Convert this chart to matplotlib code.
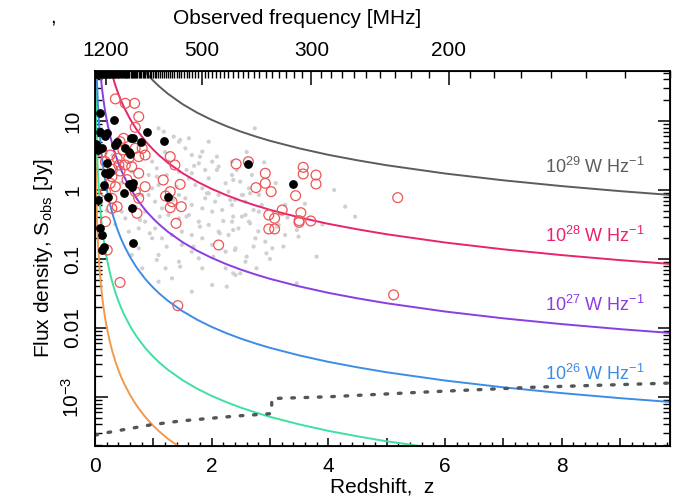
import numpy as np
import matplotlib
matplotlib.use('Agg')
import matplotlib.pyplot as plt
from matplotlib.ticker import MultipleLocator, LogLocator, NullFormatter

plt.rcParams['font.family'] = ['Liberation Sans', 'DejaVu Sans']
plt.rcParams['mathtext.fontset'] = 'custom'
plt.rcParams['mathtext.rm'] = 'Liberation Sans'
plt.rcParams['mathtext.it'] = 'Liberation Sans:italic'

# flux density [Jy] of a 1e26 W/Hz source vs redshift
z_curve = [0.002, 0.005, 0.01, 0.02, 0.035, 0.05, 0.075, 0.1, 0.125, 0.15, 0.175,
           0.2, 0.25, 0.3, 0.35, 0.4, 0.45, 0.5, 0.6, 0.7, 0.75, 0.85, 0.9, 1.0,
           1.1, 1.25, 1.5, 1.75, 2.0, 2.25, 2.5, 2.75, 3.0, 3.5, 4.0, 4.5, 5.0,
           6.0, 7.0, 8.0, 9.0, 10.0]
S26_curve = [1.14e4, 1818, 454, 112.9, 36.5, 17.87, 7.795, 4.344, 2.747, 1.889,
             1.3755, 1.044, 0.658, 0.451, 0.3274, 0.248, 0.1942, 0.1563, 0.1074,
             0.07833, 0.0683, 0.05292, 0.0472, 0.03829, 0.03176, 0.02481, 0.01756,
             0.01321, 0.010386, 0.008436, 0.00702, 0.005975, 0.00516, 0.004013,
             0.003234, 0.002692, 0.002284, 0.001734, 0.001381, 0.001139, 0.000963,
             0.000831]
lum_exp = [24, 25, 26, 27, 28, 29]
lum_col = ['#f29a4c', '#3fe0a0', '#3d8de6', '#8a3de2', '#e8236f', '#5c5c5c']
labelled = [26, 27, 28, 29]

# sensitivity limit (dotted)
z_lim = [0.0, 0.2, 0.94, 1.46, 2.43, 2.86, 3.03, 3.03, 4.03, 5.75, 7.46, 9.74, 9.9]
S_lim = [2.8e-4, 3.04e-4, 3.93e-4, 4.49e-4, 5.31e-4, 5.61e-4, 5.75e-4, 9.5e-4,
         1.01e-3, 1.19e-3, 1.38e-3, 1.58e-3, 1.6e-3]

# grey sample (z, log10 S)
grey_z = [1.09, 1.18, 1.35, 1.44, 1.61, 1.95, 2.09, 2.35, 2.12, 1.89, 1.78, 1.66,
          1.61, 1.72, 1.84, 1.95, 2.12, 2.24, 2.35, 2.49, 2.64, 2.81, 2.58, 2.35,
          2.18, 2.01, 1.84, 1.66, 1.55, 1.44, 1.09, 0.98, 0.92, 1.03, 1.15, 1.26,
          1.44, 1.61, 1.78, 1.95, 2.12, 2.29, 2.46, 2.64, 2.75, 2.41, 2.24, 2.01,
          1.84, 1.66, 1.49, 1.32, 1.15, 1.03, 0.86, 0.75, 0.58, 0.52, 0.46, 0.81,
          0.63, 0.92, 1.06, 1.23, 0.98, 0.86, 1.49, 1.66, 1.78, 1.44, 1.21, 1.09,
          1.32, 1.84, 2.24, 2.58, 2.92, 3.04, 3.26, 2.41, 2.01, 1.66, 2.26, 2.58,
          2.81, 3.15, 3.26, 2.86, 2.52, 2.69, 1.95, 1.44, 1.26, 1.66, 1.55, 1.84,
          2.01, 2.29, 2.06, 1.89, 2.35, 0.75, 0.98, 0.63, 1.09, 0.81, 2.74, 2.43,
          2.54, 2.66, 2.40, 2.72, 2.52, 2.66, 2.37, 2.40, 2.60, 2.72, 2.94, 2.77,
          3.46, 3.49, 4.29, 4.46, 3.80, 3.46, 3.23, 3.12, 2.49, 0.30, 0.45, 0.20,
          0.35, 0.10, 0.50, 0.70, 1.20, 1.70, 2.20, 1.40,
          1.46, 1.80, 2.09, 2.37, 1.57, 1.92, 2.32, 1.06, 1.34, 1.57, 1.80, 2.14,
          2.37, 1.11, 0.94, 1.23, 1.69, 2.03, 0.77, 1.06, 1.46, 2.37, 2.60, 2.90,
          3.10, 2.80, 3.30, 3.00, 3.60, 3.90, 4.10]
grey_logS = [0.894, 0.845, 0.773, 0.700, 0.749, 0.700, 0.483, 0.411, 0.338, 0.290,
             0.386, 0.242, 0.169, 0.072, 0.024, -0.048, -0.072, 0.097, 0.217, 0.121,
             0.024, -0.072, -0.169, -0.217, -0.290, -0.314, -0.266, -0.217, -0.121,
             -0.072, 0.072, 0.024, -0.072, -0.169, -0.266, -0.362, -0.411, -0.362,
             -0.459, -0.507, -0.604, -0.652, -0.556, -0.459, -0.700, -0.845, -0.894,
             -0.797, -0.700, -0.652, -0.604, -0.652, -0.700, -0.556, -0.459, -0.556,
             -0.604, -0.411, -0.314, -0.072, 0.266, 0.217, 0.314, 0.217, 0.411,
             -0.314, -0.797, -0.894, -0.990, -1.039, -1.135, -0.942, -1.280, -1.135,
             -1.135, -1.039, -0.749, -0.845, -0.652, -1.232, -1.377, -1.473, -1.401,
             -0.362, -0.314, -0.507, -0.217, -0.217, -0.072, 0.217, 0.169, 0.266,
             0.411, 0.507, 0.604, 0.556, 0.411, -0.024, -0.169, -0.121, -0.459,
             -0.845, -0.700, -0.942, -1.329, -1.135, 0.894, 0.290, -0.072, -0.048,
             -0.145, -0.290, -0.386, -0.483, -0.580, -0.870, -0.966, -0.820, -0.918,
             -1.135, -0.580, -0.676, -0.242, -0.386, -0.966, -1.353, -0.820, -0.532,
             -1.208, 0.50, 0.10, -0.30, -0.50, -0.20, 0.65, -0.25, 0.55, 0.35, -0.45,
             0.05,
             0.725, 0.483, 0.290, 0.145, 0.290, -0.048, -0.145, 0.193, -0.145,
             -0.386, -0.531, -0.628, -0.386, -0.386, -0.628, -0.821, -0.821, -0.966,
             -0.435, -1.014, -1.111, -1.208, 0.55, 0.40, 0.10, -0.60, -0.40, -1.00,
             -0.20, -0.50, 0.00]

# open red circles (z, log10 S)
red_z = [0.35, 0.52, 0.68, 0.75, 0.69, 0.49, 0.43, 0.81, 0.69, 0.86, 0.75, 0.26,
         0.38, 0.58, 0.52, 0.63, 0.75, 0.41, 0.43, 0.29, 0.26, 0.35, 0.86, 0.69,
         0.75, 0.29, 0.18, 0.18, 0.38, 0.29, 0.72, 0.18, 0.21, 1.29, 1.37, 1.17,
         1.46, 1.29, 1.21, 1.32, 1.29, 1.48, 1.39, 2.12, 2.42, 2.92, 2.92, 2.76,
         3.02, 3.21, 2.98, 3.08, 2.98, 3.08, 0.43, 1.42, 2.63, 3.57, 3.57, 3.79,
         3.79, 3.44, 3.53, 3.50, 3.50, 3.70, 5.19, 5.12, 0.12, 0.55, 0.30, 0.48]
red_logS = [1.32, 1.256, 1.256, 1.063, 0.908, 0.749, 0.700, 0.604, 0.604, 0.507,
            0.483, 0.507, 0.459, 0.459, 0.362, 0.338, 0.242, 0.362, 0.275, 0.193,
            0.097, 0.048, 0.048, -0.024, -0.121, -0.121, 0.41, -0.024, -0.242,
            -0.266, -0.338, -0.459, -0.870, 0.483, 0.362, 0.145, 0.082, -0.024,
            -0.087, -0.169, -0.256, -0.242, -0.483, -0.797, 0.377, 0.242, 0.097,
            0.034, -0.024, -0.290, -0.362, -0.410, -0.565, -0.565, -1.34, -1.676,
            0.41, 0.329, 0.232, 0.217, 0.087, -0.082, -0.329, -0.445, -0.47,
            -0.449, -0.111, -1.52, 0.55, 0.15, 0.30, 0.58]

# filled black points (z, log10 S)
blk_z = [0.09, 0.32, 0.09, 0.21, 0.38, 0.35, 0.52, 0.61, 0.66, 0.79, 0.89, 1.18,
         0.12, 0.06, 0.58, 0.60, 0.21, 0.18, 0.23, 0.26, 0.15, 0.58, 0.63, 0.66,
         0.49, 0.23, 0.06, 1.26, 0.63, 0.09, 0.12, 0.15, 0.12, 0.66, 2.62, 3.40,
         0.18, 0.02]
blk_logS = [1.11, 1.014, 0.845, 0.82, 0.70, 0.652, 0.604, 0.749, 0.749, 0.70,
            0.836, 0.71, 0.604, 0.58, 0.556, 0.52, 0.386, 0.242, 0.227, 0.266,
            0.072, 0.082, 0.048, 0.097, -0.048, -0.097, -0.145, -0.097, -0.256,
            -0.556, -0.652, -0.82, -0.87, -0.773, 0.377, 0.087, 0.78, 0.66]

nu0 = 1420.0  # MHz
top_major = [1200, 500, 300, 200]
top_minor = list(range(130, 1420, 10))

fig = plt.figure(figsize=(6.75, 5), dpi=100)
ax = fig.add_axes([0.1407, 0.108, 0.852, 0.75])

ax.scatter(grey_z, 10 ** np.array(grey_logS), s=9, color='#d0d0d0',
           edgecolors='none', zorder=1)

S26 = np.array(S26_curve)
for k, c in zip(lum_exp, lum_col):
    ax.plot(z_curve, S26 * 10.0 ** (k - 26), color=c, lw=1.4, zorder=2)
    if k in labelled:
        ax.text(9.42, 10 ** (k - 28.66), r'10$^{%d}$ W Hz$^{-1}$' % k, color=c,
                fontsize=13, ha='right', va='center')

ax.plot(z_lim, S_lim, color='#555555', lw=2.4, ls=(0, (0.8, 3.2)),
        dash_capstyle='round', zorder=2)

ax.scatter(red_z, 10 ** np.array(red_logS), s=50, facecolors='none',
           edgecolors='#ee5555', linewidths=0.9, zorder=3)
ax.scatter(blk_z, 10 ** np.array(blk_logS), s=28, color='k', zorder=4)

ax.set_yscale('log')
ax.set_xlim(0, 9.86)
ax.set_ylim(1.95e-4, 53)

ax.set_xticks(range(10))
ax.set_xticklabels([str(i) if i % 2 == 0 else '' for i in range(10)])
ax.xaxis.set_minor_locator(MultipleLocator(0.2))
ax.set_yticks([1e-3, 1e-2, 0.1, 1, 10])
ax.set_yticklabels([r'10$^{-3}$', '0.01', '0.1', '1', '10'])
ax.yaxis.set_minor_locator(LogLocator(base=10, subs=np.arange(2, 10)))
ax.yaxis.set_minor_formatter(NullFormatter())
plt.setp(ax.get_yticklabels(), rotation=90, va='center')

ax.tick_params(axis='x', which='major', direction='in', length=6, width=1.1,
               labelsize=15, pad=8)
ax.tick_params(axis='x', which='minor', direction='in', length=3, width=1.0)
ax.tick_params(axis='y', which='major', direction='in', length=9, width=1.1,
               labelsize=15, pad=9, left=True, right=True)
ax.tick_params(axis='y', which='minor', direction='in', length=5, width=1.0,
               left=True, right=True)
for sp in ax.spines.values():
    sp.set_linewidth(1.3)

ax.set_xlabel('Redshift,  z', fontsize=15, labelpad=1)
ax.set_ylabel(r'Flux density, S$_{\rm obs}$ [Jy]', fontsize=15, labelpad=4)

ax2 = ax.twiny()
ax2.set_xlim(ax.get_xlim())
ax2.set_xticks([nu0 / f - 1 for f in top_major])
ax2.set_xticklabels([str(f) for f in top_major])
ax2.set_xticks([nu0 / f - 1 for f in top_minor if f not in top_major], minor=True)
ax2.tick_params(axis='x', which='major', direction='in', length=10, width=1.1,
                labelsize=15, pad=8)
ax2.tick_params(axis='x', which='minor', direction='in', length=5, width=1.0)

fig.text(297 / 675, 1 - 19 / 500, 'Observed frequency [MHz]', fontsize=15,
         ha='center', va='center')
fig.text(53 / 675, 1 - 17 / 500, ',', fontsize=15, ha='center', va='center')

fig.savefig('out.png', dpi=100)
